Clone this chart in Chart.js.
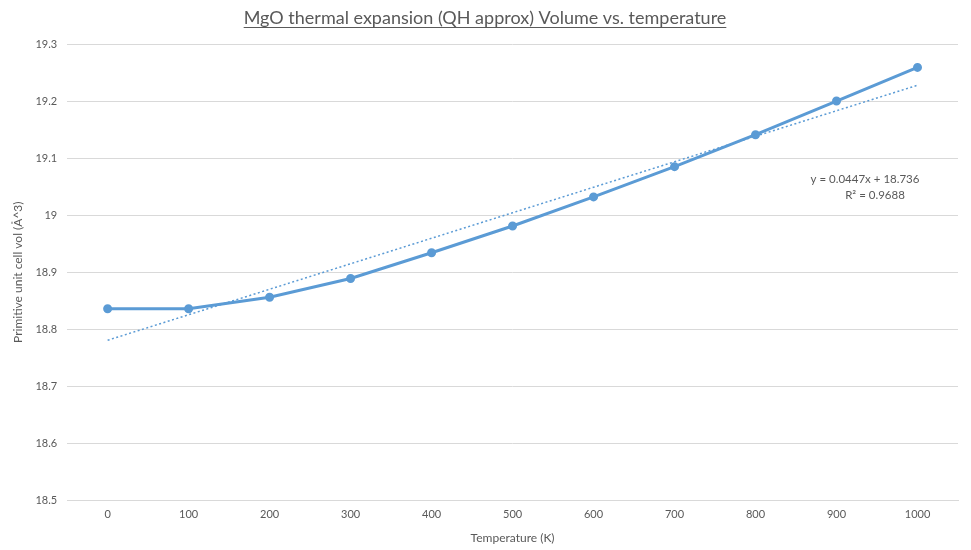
<!DOCTYPE html>
<html>
<head>
<meta charset="utf-8">
<script src="https://cdn.jsdelivr.net/npm/chart.js@4/dist/chart.umd.min.js"></script>
<style>
  html, body { margin: 0; padding: 0; background: #fff; }
  #wrap { width: 971px; height: 550px; }
</style>
</head>
<body>
<div id="wrap"><canvas id="grafico"></canvas></div>
<script>
// Dados
const temperaturas = ['0', '100', '200', '300', '400', '500', '600', '700', '800', '900', '1000'];
const volumes = [18.836, 18.836, 18.856, 18.889, 18.934, 18.981, 19.032, 19.085, 19.141, 19.200, 19.259];
const trendSlope = 0.0447;     // y = 0.0447x + 18.736
const trendIntercept = 18.736;
const trendTexto = ['y = 0.0447x + 18.736', 'R² = 0.9688'];
const tituloTexto = 'MgO thermal expansion (QH approx) Volume vs. temperature';

// linha de tendência (x = índice da categoria, começando em 1, como no Excel)
const tendencia = temperaturas.map((t, i) => trendSlope * (i + 1) + trendIntercept);

const cinza = '#595959';
const azul = '#5B9BD5';
const fonte = 'Lato, "Open Sans", sans-serif';

// Plugin para título sublinhado e equação da tendência
const extras = {
    id: 'extras',
    afterDraw(chart) {
        const ctx = chart.ctx;
        ctx.save();
        ctx.fillStyle = cinza;
        ctx.font = '18px ' + fonte;
        ctx.textAlign = 'center';
        ctx.textBaseline = 'alphabetic';
        const cx = 485, ty = 24;
        ctx.fillText(tituloTexto, cx, ty);
        const w = ctx.measureText(tituloTexto).width;
        ctx.strokeStyle = cinza;
        ctx.lineWidth = 1;
        ctx.beginPath();
        ctx.moveTo(cx - w / 2, ty + 3.5);
        ctx.lineTo(cx + w / 2, ty + 3.5);
        ctx.stroke();

        ctx.font = '11.5px ' + fonte;
        ctx.fillText(trendTexto[0], 865, 183);
        ctx.fillText(trendTexto[1], 875, 199);
        ctx.restore();
    }
};

const ctx1 = document.getElementById('grafico').getContext('2d');
const grafico = new Chart(ctx1, {
    type: 'line',
    data: {
        labels: temperaturas,
        datasets: [{
            label: 'Volume',
            data: volumes,
            borderColor: azul,
            backgroundColor: azul,
            borderWidth: 3,
            pointRadius: 3,
            pointHoverRadius: 3,
            tension: 0,
            order: 1
        }, {
            label: 'Tendência',
            data: tendencia,
            borderColor: azul,
            borderWidth: 1.5,
            borderDash: [2, 2.5],
            pointRadius: 0,
            tension: 0,
            order: 2
        }]
    },
    options: {
        responsive: true,
        maintainAspectRatio: false,
        animation: false,
        layout: { padding: { top: 44, right: 13, left: 7, bottom: 1 } },
        plugins: {
            legend: { display: false },
            tooltip: { enabled: false },
            title: { display: false }
        },
        scales: {
            x: {
                offset: true,
                grid: { display: false, drawTicks: false },
                border: { color: '#D9D9D9' },
                ticks: { color: cinza, font: { family: fonte, size: 11 }, padding: 7, maxRotation: 0 },
                title: { display: true, text: 'Temperature (K)', color: cinza, font: { family: fonte, size: 12 }, padding: { top: 3 } }
            },
            y: {
                min: 18.5,
                max: 19.3,
                grid: { color: '#D9D9D9', drawTicks: false },
                border: { display: false },
                ticks: {
                    stepSize: 0.1,
                    color: cinza,
                    font: { family: fonte, size: 11 },
                    padding: 10,
                    callback: v => String(+v.toFixed(1))
                },
                title: { display: true, text: 'Primitive unit cell vol (Å^3)', color: cinza, font: { family: fonte, size: 12 }, padding: { bottom: 0 } }
            }
        }
    },
    plugins: [extras]
});
</script>
</body>
</html>
